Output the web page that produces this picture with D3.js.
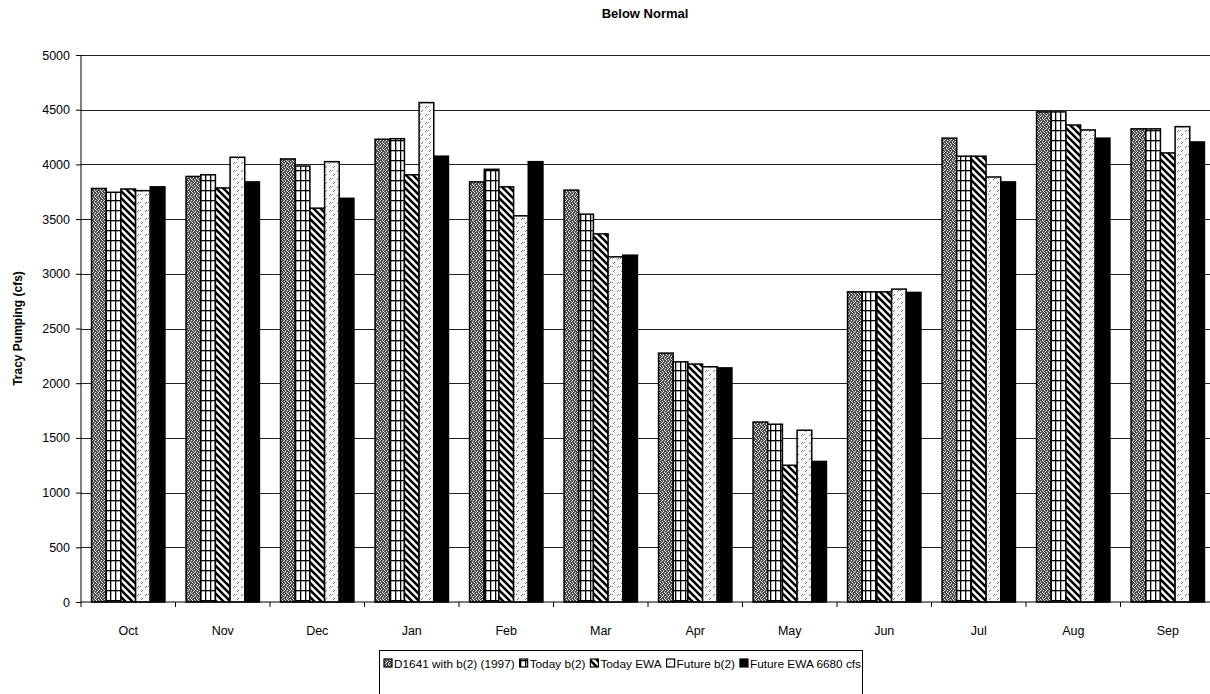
<!DOCTYPE html>
<html><head><meta charset="utf-8">
<script src="https://cdn.jsdelivr.net/npm/d3@7"></script>
<style>body{margin:0;background:#fff}svg{display:block;font-family:"Liberation Sans",Arial,sans-serif}</style>
</head><body><svg id="c" width="1210" height="694"></svg>
<script>
const months = ["Oct","Nov","Dec","Jan","Feb","Mar","Apr","May","Jun","Jul","Aug","Sep"];
const seriesNames = ["D1641 with b(2) (1997)","Today b(2)","Today EWA","Future b(2)","Future EWA 6680 cfs"];
const d1641 =     [3780,3890,4050,4230,3840,3765,2275,1645,2835,4240,4480,4325];
const todayB2 =   [3745,3905,3985,4235,3955,3545,2195,1625,2835,4075,4480,4325];
const todayEWA =  [3775,3785,3600,3905,3795,3365,2175,1250,2835,4075,4360,4105];
const futureB2 =  [3760,4065,4025,4565,3530,3155,2150,1570,2860,3885,4315,4345];
const futureEWA = [3795,3840,3690,4075,4025,3170,2140,1285,2830,3840,4240,4205];
const yTicks = [0,500,1000,1500,2000,2500,3000,3500,4000,4500,5000];
const seriesValues = [d1641,todayB2,todayEWA,futureB2,futureEWA];

const svg = d3.select("#c");
const defs = svg.append("defs");

// patterns
const p1 = defs.append("pattern").attr("id","pat0").attr("patternUnits","userSpaceOnUse").attr("width",6).attr("height",6);
p1.append("rect").attr("width",6).attr("height",6).attr("fill","#4a4a4a");
[[0,0],[3,1],[1,3],[4,4],[2,5],[5,2],[2,2],[5,5]].forEach(([a,b])=>p1.append("rect").attr("x",a).attr("y",b).attr("width",1).attr("height",1).attr("fill","#eee"));
[[1,1],[4,3],[0,4],[3,0]].forEach(([a,b])=>p1.append("rect").attr("x",a).attr("y",b).attr("width",1).attr("height",1).attr("fill","#aaa"));

const p2 = defs.append("pattern").attr("id","pat1").attr("patternUnits","userSpaceOnUse").attr("width",5).attr("height",10);
p2.append("rect").attr("width",5).attr("height",10).attr("fill","#fff");
p2.append("rect").attr("x",0).attr("y",0).attr("width",1.3).attr("height",10).attr("fill","#000");
p2.append("rect").attr("x",0).attr("y",0).attr("width",5).attr("height",1.3).attr("fill","#000");

const p3 = defs.append("pattern").attr("id","pat2").attr("patternUnits","userSpaceOnUse").attr("width",7).attr("height",7);
p3.append("rect").attr("width",7).attr("height",7).attr("fill","#fff");
p3.append("path").attr("d","M-2,-2 L9,9 M-2,5 L2,9 M5,-2 L9,2").attr("stroke","#000").attr("stroke-width",2.6);

const p4 = defs.append("pattern").attr("id","pat3").attr("patternUnits","userSpaceOnUse").attr("width",8).attr("height",8);
p4.append("rect").attr("width",8).attr("height",8).attr("fill","#f6f6f6");
p4.append("path").attr("d","M1,4 L3,2 M5,8 L7,6 M4,3 L5,2").attr("stroke","#555").attr("stroke-width",0.8);

const fills = ["url(#pat0)","url(#pat1)","url(#pat2)","url(#pat3)","#000"];

const plotL = 81, plotR = 81 + 12*94.5, plotT = 55, plotB = 602;
const x0 = d3.scaleBand().domain(months).range([plotL,plotR]).paddingInner(0).paddingOuter(0);
const x1 = d3.scaleBand().domain(d3.range(5)).range([0,x0.bandwidth()]).paddingInner(0).paddingOuter(0.72);
const y = d3.scaleLinear().domain([0,5000]).range([plotB,plotT]);

// title
svg.append("text").attr("x",645).attr("y",18).attr("text-anchor","middle").attr("font-weight","bold").attr("font-size",13).text("Below Normal");

// gridlines
svg.append("g").selectAll("line").data(yTicks.filter(d=>d>0)).join("line")
  .attr("x1",plotL).attr("x2",1210).attr("y1",d=>Math.round(y(d))+0.5).attr("y2",d=>Math.round(y(d))+0.5)
  .attr("stroke","#222").attr("stroke-width",1);

// bars
const g = svg.append("g");
months.forEach((m,i)=>{
  seriesValues.forEach((vals,s)=>{
    g.append("rect").attr("x",x0(m)+x1(s)).attr("y",y(vals[i])).attr("width",x1.bandwidth()).attr("height",plotB-y(vals[i]))
      .attr("fill",fills[s]).attr("stroke","#000").attr("stroke-width",1.5);
  });
});

// y axis
const yAxis = d3.axisLeft(y).tickValues(yTicks).tickFormat(d3.format("d")).tickSize(5).tickPadding(6);
const ya = svg.append("g").attr("transform",`translate(${plotL},0)`).call(yAxis);
ya.selectAll("text").attr("font-size",12.5).attr("font-family","Liberation Sans, Arial").attr("fill","#000");
ya.selectAll("line,path").attr("stroke","#000");
ya.select(".domain").attr("d",`M0,${plotB}V${plotT}`);

// x axis
const xa = svg.append("g").attr("transform",`translate(0,${plotB})`);
xa.append("line").attr("x1",plotL).attr("x2",1210).attr("stroke","#000").attr("stroke-width",1.2);
xa.selectAll(".tk").data(months).join("line").attr("class","tk")
  .attr("x1",d=>x0(d)).attr("x2",d=>x0(d)).attr("y1",0).attr("y2",5).attr("stroke","#000");
xa.selectAll("text").data(months).join("text")
  .attr("x",d=>x0(d)+x0.bandwidth()/2).attr("y",33).attr("text-anchor","middle").attr("font-size",12.5).text(d=>d);

// y label
svg.append("text").attr("transform",`translate(22,${(plotT+plotB)/2}) rotate(-90)`).attr("text-anchor","middle")
  .attr("font-weight","bold").attr("font-size",12).text("Tracy Pumping (cfs)");

// legend
const lg = svg.append("g");
lg.append("rect").attr("x",379.5).attr("y",650.5).attr("width",483).attr("height",60).attr("fill","#fff").attr("stroke","#000").attr("stroke-width",1);
let lx = 384;
seriesNames.forEach((n,s)=>{
  lg.append("rect").attr("x",lx).attr("y",659).attr("width",8).attr("height",8).attr("fill",fills[s]).attr("stroke","#000").attr("stroke-width",1.2);
  const t = lg.append("text").attr("x",lx+10).attr("y",667.5).attr("font-size",11.8).text(n);
  lx += 10 + t.node().getComputedTextLength() + 5;
});
</script></body></html>
